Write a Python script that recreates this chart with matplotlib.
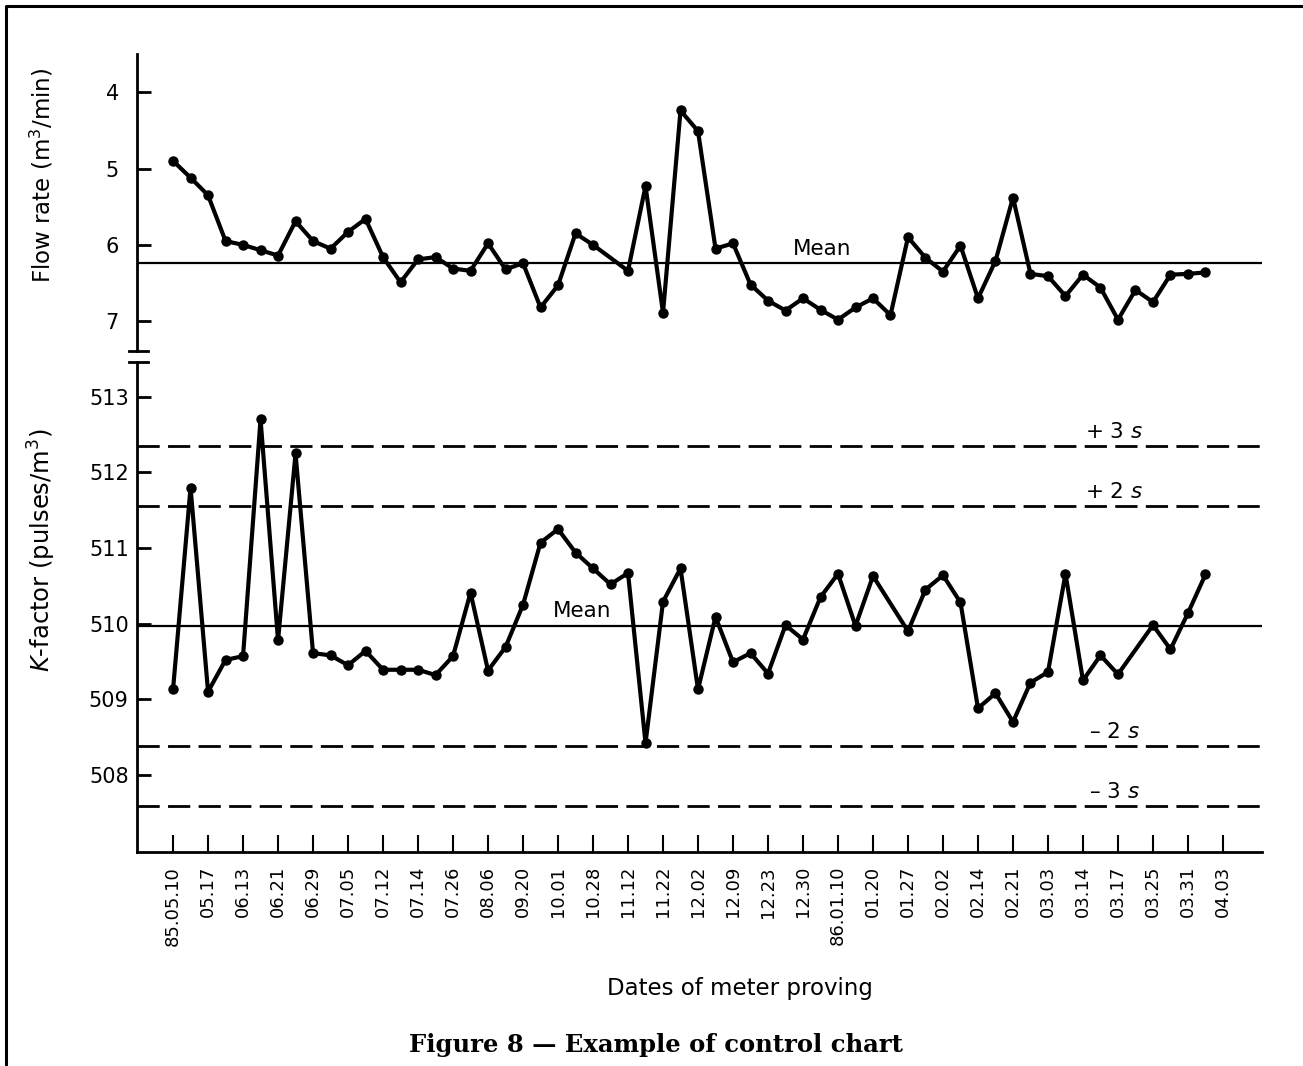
import numpy as np
import matplotlib
matplotlib.use('Agg')
import matplotlib.pyplot as plt
from matplotlib.lines import Line2D

plt.rcParams['font.family'] = 'DejaVu Sans'
plt.rcParams['mathtext.fontset'] = 'dejavusans'

# dates of meter proving (every second proving is labelled)
dates = ['85.05.10', '05.17', '06.13', '06.21', '06.29', '07.05', '07.12', '07.14',
         '07.26', '08.06', '09.20', '10.01', '10.28', '11.12', '11.22', '12.02',
         '12.09', '12.23', '12.30', '86.01.10', '01.20', '01.27', '02.02', '02.14',
         '02.21', '03.03', '03.14', '03.17', '03.25', '03.31', '04.03']

nan = np.nan
# flow rate (m3/min), one value per proving
flow = [4.90, 5.12, 5.35, 5.95, 6.00, 6.07, 6.14, 5.69, 5.95, 6.05,
        5.83, 5.66, 6.16, 6.49, 6.19, 6.16, 6.31, 6.34, 5.98, 6.32,
        6.24, 6.82, 6.53, 5.85, 6.00, nan, 6.34, 5.23, 6.89, 4.24,
        4.51, 6.05, 5.98, 6.52, 6.73, 6.86, 6.70, 6.85, 6.98, 6.82,
        6.70, 6.92, 5.90, 6.17, 6.35, 6.01, 6.70, 6.21, 5.38, 6.38,
        6.41, 6.67, 6.39, 6.56, 6.98, 6.59, 6.75, 6.39, 6.38, 6.36]
flow_mean = 6.24

# K-factor (pulses/m3)
kfac = [509.13, 511.80, 509.10, 509.52, 509.57, 512.70, 509.78, 512.25, 509.61, 509.58,
        509.45, 509.64, 509.39, 509.39, 509.39, 509.32, 509.57, 510.41, 509.38, 509.69,
        510.25, 511.07, 511.25, 510.94, 510.73, 510.52, 510.67, 508.42, 510.29, 510.73,
        509.13, 510.09, 509.49, 509.61, 509.34, 509.98, 509.79, 510.35, 510.66, 509.97,
        510.63, nan, 509.90, 510.45, 510.64, 510.28, 508.88, 509.08, 508.70, 509.22,
        509.36, 510.66, 509.25, 509.58, 509.33, nan, 509.98, 509.66, 510.14, 510.65]
k_mean = 509.97
k_limits = [512.35, 511.56, 508.38, 507.59]
k_limit_labels = ['+ 3 $s$', '+ 2 $s$', '\u2013 2 $s$', '\u2013 3 $s$']

flow = np.array(flow)
kfac = np.array(kfac)
x = np.arange(len(flow))

W, H = 1303, 1066
fig = plt.figure(figsize=(W / 100, H / 100), dpi=100)

def fx(px):
    return px / W

def fy(py):
    return 1 - py / H

left, right = 137, 1262
ax1 = fig.add_axes([fx(left), fy(351), fx(right - left), fy(54) - fy(351)])
ax2 = fig.add_axes([fx(left), fy(852), fx(right - left), fy(362) - fy(852)])

xlim = (-2.06, 62.23)
line_kw = dict(color='black', lw=3.0, marker='o', ms=6.5, solid_joinstyle='round')

# --- flow rate panel
m = ~np.isnan(flow)
ax1.plot(x[m], flow[m], **line_kw)
ax1.axhline(flow_mean, color='black', lw=1.6)
ax1.text(37.1, flow_mean - 0.06, 'Mean', ha='center', va='bottom', fontsize=15.5)
ax1.set_xlim(*xlim)
ax1.set_ylim(7.39, 3.50)
ax1.set_yticks([4, 5, 6, 7])
ax1.set_xticks([])
for s in ['top', 'right', 'bottom']:
    ax1.spines[s].set_visible(False)
ax1.spines['left'].set_linewidth(2)
ax1.tick_params(axis='y', direction='in', length=10, width=2, labelsize=15, pad=13)

# --- K-factor panel
m = ~np.isnan(kfac)
ax2.plot(x[m], kfac[m], **line_kw)
ax2.axhline(k_mean, color='black', lw=1.6)
ax2.text(23.4, k_mean + 0.06, 'Mean', ha='center', va='bottom', fontsize=15.5)
for val, lab in zip(k_limits, k_limit_labels):
    ax2.axhline(val, color='black', lw=2, dashes=(8, 3))
    ax2.text(53.8, val + 0.05, lab, ha='center', va='bottom', fontsize=15.5,
             bbox=dict(facecolor='white', edgecolor='none', pad=0))
ax2.set_xlim(*xlim)
ax2.set_ylim(506.98, 513.46)
ax2.set_yticks([508, 509, 510, 511, 512, 513])
ax2.set_xticks(np.arange(0, 2 * len(dates), 2))
ax2.set_xticklabels(dates, rotation=90, fontsize=13)
for s in ['top', 'right']:
    ax2.spines[s].set_visible(False)
ax2.spines['left'].set_linewidth(2)
ax2.spines['bottom'].set_linewidth(2)
ax2.tick_params(axis='y', direction='in', length=10, width=2, labelsize=15, pad=6)
ax2.tick_params(axis='x', direction='in', length=12, width=1.5, pad=10)

# axis break marks
for py in (351, 362):
    fig.add_artist(Line2D([fx(129), fx(148)], [fy(py), fy(py)], color='black', lw=2))

fig.text(fx(42), fy(175), 'Flow rate (m$^3$/min)', rotation=90, ha='center', va='center', fontsize=16.5)
fig.text(fx(42), fy(550), '$K$-factor (pulses/m$^3$)', rotation=90, ha='center', va='center', fontsize=17.5)
fig.text(fx(740), fy(988), 'Dates of meter proving', ha='center', va='center', fontsize=16.5)
fig.text(fx(656), fy(1045), 'Figure 8 \u2014 Example of control chart', ha='center', va='center',
         fontsize=17.5, fontweight='bold', family='DejaVu Serif')

# page frame
fig.add_artist(Line2D([fx(6), fx(6), 1], [0, fy(6), fy(6)], color='black', lw=2.2))

fig.savefig('out.png', dpi=100)
